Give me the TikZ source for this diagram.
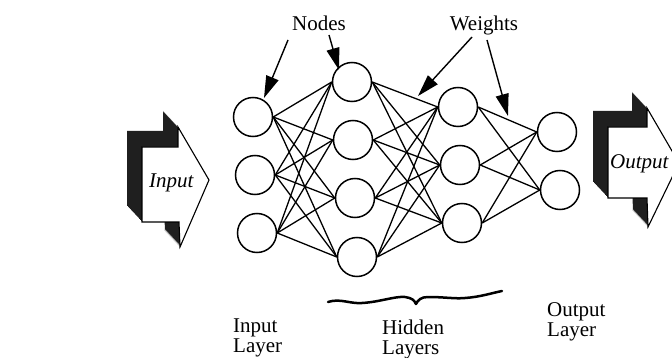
\documentclass[tikz,border=0pt]{standalone}
\usepackage{fontspec}
\setmainfont{Liberation Serif}
\usetikzlibrary{arrows.meta}
\begin{document}
\begin{tikzpicture}[x=1pt,y=-1pt,
  neuron/.style={circle,draw,line width=1.5pt,minimum size=39pt,inner sep=0pt,fill=white},
  link/.style={line width=1.3pt},
  callout/.style={line width=1.4pt,-{Triangle[length=22pt,width=13pt]}},
  lab/.style={font=\fontsize{21}{18}\selectfont,inner sep=0pt},
  blocklab/.style={font=\fontsize{21}{18}\selectfont\itshape,inner sep=0pt},
  blockside/.style={fill=black!88},
  blockfront/.style={fill=white,draw,line width=1.1pt,line join=miter},
  bracestyle/.style={line width=2.5pt,line cap=round,line join=round},
]
\useasboundingbox (0,0) rectangle (672,358);
\clip (0,0) rectangle (672,358);
\fill[white] (0,0) rectangle (672,358);

% ---- input block arrow ----
\foreach \k in {0,...,15}{
  \fill[blockside,shift={(-\k,-\k*16/15)}] (142,147) -- (178,147) -- (178,127) -- (209,180) -- (180,247) -- (179,222) -- (142,222) -- cycle;
}
\draw[blockfront] (142,147) -- (178,147) -- (178,127) -- (209,180) -- (180,247) -- (179,222) -- (142,222) -- cycle;
\node[blocklab,anchor=base west] (inputtxt) at (149,188) {Input};

% ---- output block arrow ----
\foreach \k in {0,...,15}{
  \fill[blockside,shift={(-\k,-\k*16/15)}] (608,127) -- (647,127) -- (647,108) -- (679,163) -- (648,227) -- (647,198) -- (608,198) -- cycle;
}
\draw[blockfront] (608,127) -- (647,127) -- (647,108) -- (679,163) -- (648,227) -- (647,198) -- (608,198) -- cycle;
\node[blocklab,anchor=base west] (outputtxt) at (610,169) {Output};

% ---- neurons ----
\node[neuron] (i1) at (253,117) {};
\node[neuron] (i2) at (255,175) {};
\node[neuron] (i3) at (257,233) {};
\node[neuron] (h1) at (352,82) {};
\node[neuron] (h2) at (353,140) {};
\node[neuron] (h3) at (355,198) {};
\node[neuron] (h4) at (357,257) {};
\node[neuron] (g1) at (458,107) {};
\node[neuron] (g2) at (460,165) {};
\node[neuron] (g3) at (462,223) {};
\node[neuron] (o1) at (557,132) {};
\node[neuron] (o2) at (560,190) {};

% ---- weights (links) ----
\foreach \a in {i1,i2,i3}{\foreach \b in {h1,h2,h3,h4}{\draw[link] (\a.east) -- (\b.west);}}
\foreach \a in {h1,h2,h3,h4}{\foreach \b in {g1,g2,g3}{\draw[link] (\a.east) -- (\b.west);}}
\foreach \a in {g1,g2,g3}{\foreach \b in {o1,o2}{\draw[link] (\a.east) -- (\b.west);}}

% ---- labels ----
\node[lab,anchor=base] (nodeslbl) at (319,31) {Nodes};
\node[lab,anchor=base] (weightslbl) at (484,31) {Weights};
\node[lab,anchor=base west] (inl1) at (233,332) {Input};
\node[lab,anchor=base west] (inl2) at (233,352) {Layer};
\node[lab,anchor=base west] (hl1) at (382,334) {Hidden};
\node[lab,anchor=base west] (hl2) at (382,354) {Layers};
\node[lab,anchor=base west] (ol1) at (547,316) {Output};
\node[lab,anchor=base west] (ol2) at (547,336) {Layer};

% ---- callout arrows ----
\coordinate (nt1) at (288,40);
\coordinate (nh1) at (264,98);
\coordinate (nt2) at (329,35);
\coordinate (nh2) at (339,70);
\coordinate (wt1) at (472,37);
\coordinate (wh1) at (418,96);
\coordinate (wt2) at (487,40);
\coordinate (wh2) at (508,116);
\draw[callout] (nt1) -- (nh1);
\draw[callout] (nt2) -- (nh2);
\draw[callout] (wt1) -- (wh1);
\draw[callout] (wt2) -- (wh2);

% ---- brace under hidden layers ----
\draw[bracestyle] (328,302) .. controls (340,298) and (350,304) .. (362,303)
  .. controls (380,302) and (395,296) .. (405,297)
  .. controls (412,298) and (414,300) .. (416,304)
  .. controls (418,300) and (421,297) .. (428,297)
  .. controls (445,297) and (455,299) .. (465,298)
  .. controls (480,297) and (492,293) .. (502,291);
\end{tikzpicture}
\end{document}
